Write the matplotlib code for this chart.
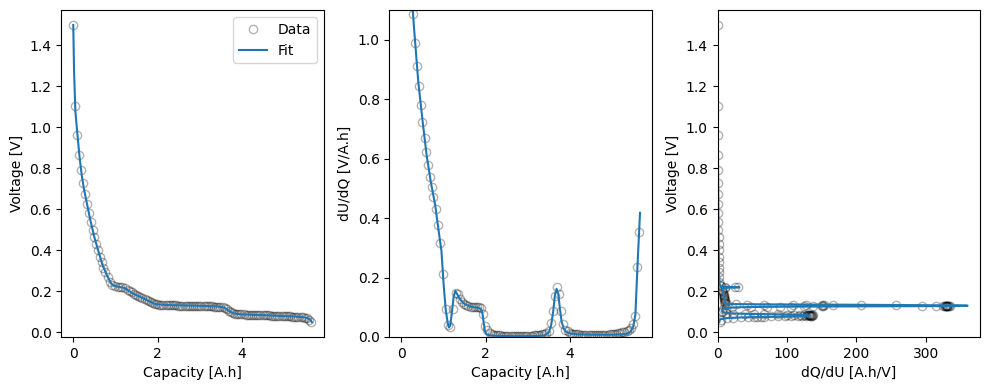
"""Voltage curve with fit, dU/dQ and dQ/dU panels."""

import matplotlib
matplotlib.use("Agg")
import matplotlib.pyplot as plt

# Measured points
capacity = [
    0.0, 0.045, 0.10, 0.145, 0.185, 0.23, 0.275, 0.33, 0.37, 0.415,
    0.46, 0.50, 0.55, 0.59, 0.635, 0.675, 0.715, 0.76, 0.82, 0.87,
    0.92, 0.985, 1.05, 1.11, 1.16, 1.22, 1.29, 1.34, 1.39, 1.44,
    1.49, 1.54, 1.59, 1.64, 1.69, 1.74, 1.79, 1.84, 1.89, 1.94,
    1.99, 2.04, 2.09, 2.14, 2.19, 2.24, 2.29, 2.34, 2.39, 2.44,
    2.49, 2.54, 2.59, 2.64, 2.69, 2.74, 2.79, 2.84, 2.89, 2.94,
    2.99, 3.04, 3.09, 3.14, 3.19, 3.24, 3.29, 3.34, 3.39, 3.44,
    3.49, 3.54, 3.59, 3.64, 3.69, 3.74, 3.79, 3.84, 3.89, 3.94,
    3.99, 4.04, 4.09, 4.14, 4.19, 4.24, 4.29, 4.34, 4.39, 4.44,
    4.49, 4.54, 4.59, 4.64, 4.69, 4.74, 4.79, 4.84, 4.89, 4.94,
    4.99, 5.04, 5.09, 5.14, 5.19, 5.24, 5.29, 5.34, 5.39, 5.44,
    5.49, 5.54, 5.59, 5.64,
]
voltage = [
    1.500, 1.104, 0.963, 0.865, 0.790, 0.728, 0.675, 0.627, 0.582, 0.538,
    0.498, 0.465, 0.432, 0.400, 0.370, 0.342, 0.316, 0.293, 0.270, 0.248,
    0.232, 0.226, 0.223, 0.221, 0.220, 0.217, 0.209, 0.202, 0.195, 0.189,
    0.183, 0.178, 0.173, 0.168, 0.163, 0.158, 0.153, 0.148, 0.143, 0.139,
    0.136, 0.135, 0.134, 0.134, 0.133, 0.133, 0.133, 0.132, 0.132, 0.132,
    0.131, 0.131, 0.131, 0.131, 0.130, 0.130, 0.130, 0.130, 0.130, 0.129,
    0.129, 0.129, 0.129, 0.128, 0.128, 0.127, 0.127, 0.126, 0.126, 0.125,
    0.124, 0.122, 0.119, 0.114, 0.106, 0.099, 0.094, 0.091, 0.090, 0.089,
    0.088, 0.0875, 0.087, 0.0865, 0.086, 0.0855, 0.085, 0.0847, 0.0843, 0.084,
    0.0836, 0.0832, 0.0828, 0.0824, 0.082, 0.0816, 0.0812, 0.0808, 0.0804, 0.080,
    0.0795, 0.079, 0.0785, 0.078, 0.0773, 0.0765, 0.0757, 0.0749, 0.074, 0.073,
    0.071, 0.068, 0.062, 0.052,
]
dudq = [
    8.5, 4.6, 2.6, 1.75, 1.45, 1.22, 1.087, 0.988, 0.911, 0.843,
    0.781, 0.722, 0.668, 0.621, 0.578, 0.540, 0.506, 0.472, 0.432, 0.378,
    0.317, 0.212, 0.094, 0.041, 0.034, 0.094, 0.148, 0.143, 0.128, 0.118,
    0.112, 0.107, 0.104, 0.102, 0.101, 0.100, 0.100, 0.101, 0.096, 0.077,
    0.038, 0.024, 0.015, 0.00926, 0.00781, 0.00662, 0.00654, 0.00602, 0.00483, 0.00389,
    0.00340, 0.00317, 0.00305, 0.00302, 0.00300, 0.00304, 0.00301, 0.00303, 0.00299, 0.00306,
    0.00302, 0.00304, 0.00308, 0.00658, 0.00667, 0.00730, 0.00800, 0.00943, 0.0111, 0.0140,
    0.021, 0.047, 0.086, 0.139, 0.169, 0.143, 0.086, 0.045, 0.025, 0.019,
    0.015, 0.0115, 0.0100, 0.0091, 0.00847, 0.0080, 0.0077, 0.00752, 0.00735, 0.0073,
    0.0074, 0.00758, 0.00775, 0.00763, 0.00746, 0.00735, 0.00752, 0.00781, 0.0082, 0.00862,
    0.00943, 0.0103, 0.0115, 0.0130, 0.0149, 0.0160, 0.0175, 0.0190, 0.0230, 0.0300,
    0.0440, 0.0720, 0.2360, 0.3540,
]
dqdu = [
    0.12, 0.22, 0.38, 0.57, 0.69, 0.82, 0.92, 1.01, 1.10, 1.19,
    1.28, 1.39, 1.50, 1.61, 1.73, 1.85, 1.98, 2.12, 2.31, 2.65,
    3.15, 4.72, 10.6, 24.4, 29.4, 10.6, 6.76, 6.99, 7.81, 8.47,
    8.93, 9.35, 9.62, 9.80, 9.90, 10.0, 10.0, 9.90, 10.4, 13.0,
    26.3, 41.7, 66.7, 108, 128, 151, 153, 166, 207, 257,
    294, 315, 328, 331, 333, 329, 332, 330, 334, 327,
    331, 329, 325, 152, 150, 137, 125, 106, 90.1, 71.4,
    47.6, 21.3, 11.6, 7.19, 5.92, 6.99, 11.6, 22.2, 40.0, 52.6,
    66.7, 87.0, 100, 110, 118, 125, 130, 133, 136, 137,
    135, 132, 129, 131, 134, 136, 133, 128, 122, 116,
    106, 97.1, 87.0, 76.9, 67.1, 62.5, 57.1, 52.6, 43.5, 33.3,
    22.7, 13.9, 4.24, 2.82,
]

# Fitted model
capacity_fit = [
    0.00, 0.02, 0.05, 0.10, 0.15, 0.20, 0.25, 0.30, 0.40, 0.50,
    0.60, 0.70, 0.80, 0.90, 0.95, 1.00, 1.05, 1.10, 1.13, 1.16,
    1.20, 1.24, 1.28, 1.32, 1.40, 1.50, 1.60, 1.70, 1.80, 1.88,
    1.92, 1.95, 1.98, 2.02, 2.10, 2.30, 2.60, 2.90, 3.20, 3.40,
    3.50, 3.55, 3.60, 3.64, 3.68, 3.72, 3.76, 3.80, 3.85, 3.90,
    4.00, 4.20, 4.60, 5.00, 5.30, 5.40, 5.45, 5.50, 5.55, 5.60,
    5.63, 5.66,
]
voltage_fit = [
    1.500, 1.270, 1.080, 0.963, 0.855, 0.769, 0.704, 0.653, 0.553, 0.465,
    0.393, 0.326, 0.278, 0.238, 0.229, 0.2255, 0.223, 0.221, 0.220, 0.219,
    0.217, 0.213, 0.208, 0.202, 0.192, 0.181, 0.172, 0.162, 0.152, 0.144,
    0.140, 0.138, 0.137, 0.136, 0.135, 0.133, 0.1315, 0.130, 0.128, 0.1265,
    0.1245, 0.122, 0.118, 0.113, 0.107, 0.101, 0.096, 0.093, 0.091, 0.0895,
    0.088, 0.086, 0.083, 0.0795, 0.0765, 0.075, 0.074, 0.072, 0.0695, 0.064,
    0.059, 0.050,
]
dudq_fit = [
    12.0, 7.0, 4.0, 2.4, 1.70, 1.38, 1.14, 1.04, 0.86, 0.73,
    0.61, 0.52, 0.445, 0.34, 0.29, 0.18, 0.094, 0.045, 0.032, 0.040,
    0.085, 0.135, 0.155, 0.145, 0.125, 0.111, 0.104, 0.100, 0.099, 0.095,
    0.082, 0.050, 0.020, 0.009, 0.0055, 0.0036, 0.0029, 0.00278, 0.0031, 0.0055,
    0.016, 0.038, 0.085, 0.140, 0.162, 0.145, 0.095, 0.052, 0.028, 0.018,
    0.012, 0.0085, 0.0075, 0.0076, 0.0095, 0.014, 0.021, 0.036, 0.075, 0.24,
    0.33, 0.418,
]
dqdu_fit = [
    0.083, 0.14, 0.25, 0.42, 0.59, 0.72, 0.88, 0.96, 1.16, 1.37,
    1.64, 1.92, 2.25, 2.94, 3.45, 5.56, 10.6, 22.2, 31.2, 25.0,
    11.8, 7.41, 6.45, 6.90, 8.00, 9.01, 9.62, 10.0, 10.1, 10.5,
    12.2, 20.0, 50.0, 111, 182, 278, 345, 360, 323, 182,
    62.5, 26.3, 11.8, 7.14, 6.17, 6.90, 10.5, 19.2, 35.7, 55.6,
    83.3, 118, 133, 132, 105, 71.4, 47.6, 27.8, 13.3, 4.17,
    3.03, 2.39,
]

data_style = dict(linestyle="none", marker="o", markerfacecolor="none",
                  color="k", alpha=0.3)

fig, (ax1, ax2, ax3) = plt.subplots(1, 3, figsize=(9.89, 3.9), dpi=100)

# Напряжение
ax1.plot(capacity, voltage, label="Data", **data_style)
ax1.plot(capacity_fit, voltage_fit, label="Fit")
ax1.set_xlabel("Capacity [A.h]")
ax1.set_ylabel("Voltage [V]")
ax1.legend(loc="upper right")

# dU/dQ
ax2.plot(capacity, dudq, **data_style)
ax2.plot(capacity_fit, dudq_fit)
ax2.set_ylim(0, 1.1)
ax2.set_xlabel("Capacity [A.h]")
ax2.set_ylabel("dU/dQ [V/A.h]")

# dQ/dU
ax3.plot(dqdu, voltage, **data_style)
ax3.plot(dqdu_fit, voltage_fit)
ax3.set_xlim(left=0)
ax3.set_xlabel("dQ/dU [A.h/V]")
ax3.set_ylabel("Voltage [V]")

fig.subplots_adjust(left=0.062, right=0.991, bottom=0.136, top=0.974, wspace=0.25)
plt.savefig("out.png", dpi=100)
